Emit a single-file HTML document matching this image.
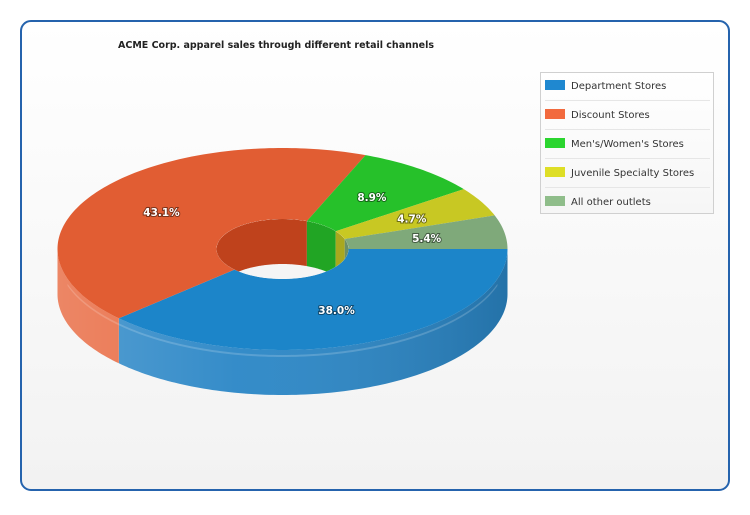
<!DOCTYPE html>
<html><head><meta charset="utf-8"><style>
body{margin:0;background:#fff;font-family:"DejaVu Sans","Liberation Sans",sans-serif}
#wrap{position:relative;width:750px;height:511px}
</style></head><body>
<div id="wrap">
<svg id="svg" width="750" height="511" xmlns="http://www.w3.org/2000/svg" font-family="DejaVu Sans, Liberation Sans, sans-serif">
<defs>
<linearGradient id="bg" x1="0" y1="0" x2="0" y2="1"><stop offset="0" stop-color="#ffffff"/><stop offset="1" stop-color="#f2f2f2"/></linearGradient>
<linearGradient id="side" x1="0" y1="0" x2="1" y2="0"><stop offset="0" stop-color="#fff" stop-opacity="0.2"/><stop offset="0.4" stop-color="#fff" stop-opacity="0.05"/><stop offset="1" stop-color="#000" stop-opacity="0.15"/></linearGradient>
<linearGradient id="leg" x1="0" y1="0" x2="0" y2="1"><stop offset="0" stop-color="#ffffff"/><stop offset="1" stop-color="#f6f6f6"/></linearGradient>
</defs>
<rect x="21" y="21" width="708" height="469" rx="10" fill="url(#bg)" stroke="#2563ad" stroke-width="2"/>
<text x="118" y="48" font-size="9.5" font-weight="bold" fill="#222">ACME Corp. apparel sales through different retail channels</text>
<g id="pie"></g>
<g id="legend">
<rect x="540.5" y="72.5" width="173" height="141" fill="url(#leg)" stroke="#d0d0d0"/>
</g>
</svg>
</div>
<script>
const categories=["Department Stores","Discount Stores","Men's/Women's Stores","Juvenile Specialty Stores","All other outlets"];
const values=[38.0,43.1,8.9,4.7,5.4];
const labels=["38.0%","43.1%","8.9%","4.7%","5.4%"];
const topColors=["#1c85c9","#e15d33","#26c12a","#c8c823","#7fa97a"];
const legendColors=["#1f88d0","#f26a3e","#2bd52f","#dede26","#8fbd8a"];
const sideColors=["#2a86c6","#e8683f","#25b02a","#b5b520","#72986d"];
const innerColors=["#1a6ea8","#bf421c","#21a524","#a9a81e","#6a8f66"];
const NS="http://www.w3.org/2000/svg";
const cx=282.5,cy=249,rx=225,ry=101,irx=66,iry=30,depth=45;
const pie=document.getElementById('pie');
function mk(tag,attrs,parent){const e=document.createElementNS(NS,tag);for(const k in attrs)e.setAttribute(k,attrs[k]);(parent||pie).appendChild(e);return e;}
function pt(a,RX,RY,dy){return [cx+RX*Math.cos(a),cy+(dy||0)+RY*Math.sin(a)];}
function arcPts(a0,a1,RX,RY,dy){const p=[];const n=Math.max(2,Math.ceil(Math.abs(a1-a0)/0.02));for(let i=0;i<=n;i++){p.push(pt(a0+(a1-a0)*i/n,RX,RY,dy));}return p;}
function poly(p){return 'M'+p.map(q=>q[0].toFixed(2)+','+q[1].toFixed(2)).join('L')+'Z';}
const total=values.reduce((a,b)=>a+b,0);
const angles=[];let acc=0;
values.forEach(v=>{const a0=acc/total*2*Math.PI;acc+=v;angles.push([a0,acc/total*2*Math.PI]);});
angles.forEach((ag,i)=>{const a0=Math.max(ag[0],0),a1=Math.min(ag[1],Math.PI);if(a1<=a0)return;
 const top=arcPts(a0,a1,rx,ry,0),bot=arcPts(a1,a0,rx,ry,depth);
 const e=mk('path',{d:poly(top.concat(bot)),fill:sideColors[i]});
 
 });
const sideTop=arcPts(0,Math.PI,rx,ry,0),sideBot=arcPts(Math.PI,0,rx,ry,depth);
mk('path',{d:poly(sideTop.concat(sideBot)),fill:'url(#side)'});
mk('path',{d:poly(arcPts(0.3,Math.PI-0.3,rx,ry,5).concat(arcPts(Math.PI-0.3,0.3,rx,ry,7))),fill:'#fff',opacity:'0.18'});
angles.forEach((ag,i)=>{const o=arcPts(ag[0],ag[1],rx,ry,0),inn=arcPts(ag[1],ag[0],irx,iry,0);
 const e=mk('path',{d:poly(o.concat(inn)),fill:topColors[i]});
 
 });
const clip=mk('clipPath',{id:'holeclip'});
mk('ellipse',{cx:cx,cy:cy,rx:irx,ry:iry},clip);
mk('ellipse',{cx:cx,cy:cy,rx:irx,ry:iry,fill:'#f5f5f5'});
const hg=mk('g',{'clip-path':'url(#holeclip)'});
angles.forEach((ag,i)=>{const a0=Math.max(ag[0],Math.PI),a1=ag[1];if(a1<=a0)return;
 const top=arcPts(a0,a1,irx,iry,0),bot=arcPts(a1,a0,irx,iry,depth);
 const e=mk('path',{d:poly(top.concat(bot)),fill:innerColors[i]},hg);
 
 });
angles.forEach((ag,i)=>{const m=(ag[0]+ag[1])/2;const p=pt(m,rx*0.65,ry*0.65,0);
 const t=mk('text',{x:p[0],y:p[1]+4,'text-anchor':'middle','font-size':'10.5','font-weight':'bold',fill:'#fff',style:'paint-order:stroke;stroke:rgba(0,0,0,0.45);stroke-width:2px'});
 t.textContent=labels[i];
 
 });
const lg=document.getElementById('legend');
categories.forEach((c,i)=>{const y=80+i*29;
 const r=mk('rect',{x:545,y:y,width:20,height:10,fill:legendColors[i]},lg);
 
 
 const t=mk('text',{x:571,y:y+9,'font-size':'10','fill':'#333'},lg);t.textContent=c;
 
 
 if(i<categories.length-1)mk('line',{x1:545,x2:710,y1:y+20.5,y2:y+20.5,stroke:'#e6e6e6'},lg);});
</script>
</body></html>
